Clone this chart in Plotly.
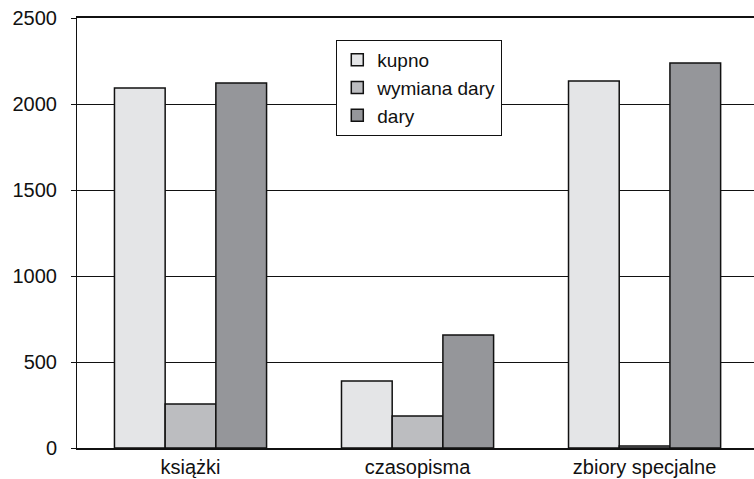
import plotly.graph_objects as go

categories = ["książki", "czasopisma", "zbiory specjalne"]
kupno = [2093, 390, 2134]
wymiana_dary = [256, 186, 12]
dary = [2122, 657, 2238]
y_ticks = [0, 500, 1000, 1500, 2000, 2500]

colors = {"kupno": "#e4e5e7", "wymiana dary": "#bcbdc0", "dary": "#95969a"}

fig = go.Figure()
for name, vals in [("kupno", kupno), ("wymiana dary", wymiana_dary), ("dary", dary)]:
    fig.add_trace(go.Bar(
        x=categories, y=vals, name=name,
        marker=dict(color=colors[name], line=dict(color="#111111", width=1.5)),
    ))

fig.update_layout(
    width=754, height=479,
    margin=dict(l=77, r=0, t=18, b=31, autoexpand=False),
    paper_bgcolor="white", plot_bgcolor="white",
    barmode="group", bargap=0.33, bargroupgap=0,
    font=dict(family="Liberation Sans, Arial, sans-serif", size=20, color="#111111"),
    legend=dict(
        x=0.383, y=0.949, xanchor="left", yanchor="top",
        bgcolor="white", bordercolor="#111111", borderwidth=1,
        font=dict(size=19), tracegroupgap=0, itemwidth=30,
    ),
    showlegend=True,
)
fig.update_xaxes(
    range=[-0.5, 2.482], automargin=False,
    showline=True, linecolor="#111111", linewidth=2, mirror=True,
    ticks="", showgrid=False,
)
fig.update_yaxes(
    range=[0, 2500], tickvals=y_ticks, automargin=False,
    showline=True, linecolor="#111111", linewidth=1,
    ticks="outside", ticklen=5, tickcolor="#111111",
    ticklabelstandoff=10,
    showgrid=True, gridcolor="#111111", gridwidth=1,
    zeroline=False,
)

fig.write_html(
    "out.html",
    config={"displayModeBar": False},
    post_script="document.body.style.margin='0';document.body.style.overflow='hidden';",
)
